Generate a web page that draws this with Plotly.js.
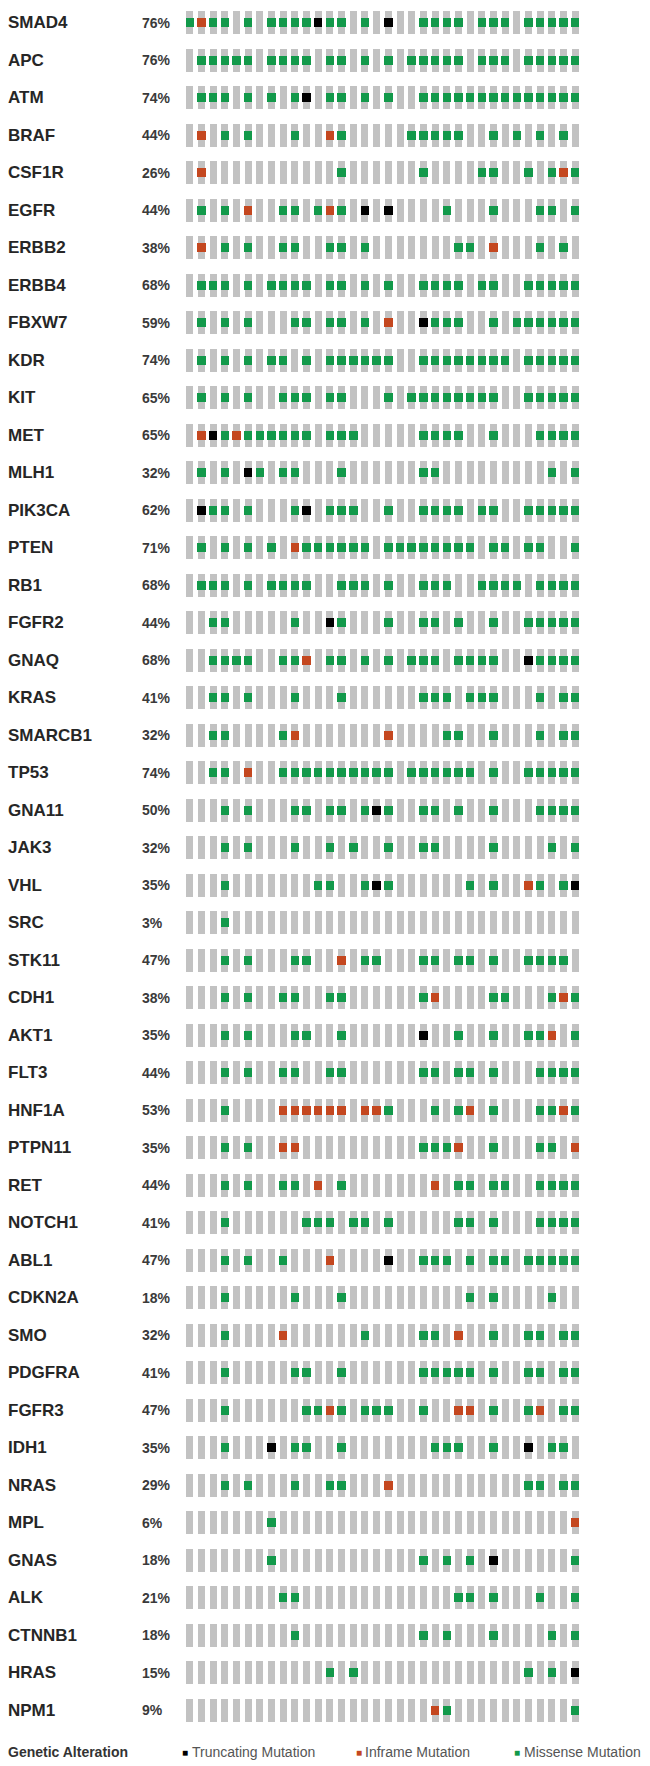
<!DOCTYPE html>
<html>
<head>
<meta charset="utf-8">
<script src="https://cdn.plot.ly/plotly-3.0.1.min.js"></script>
<style>html,body{margin:0;padding:0;background:#fff;}#chart{width:650px;height:1766px;}</style>
</head>
<body>
<div id="chart"></div>
<script>
// Gene names (rows, top to bottom)
const genes = ["SMAD4","APC","ATM","BRAF","CSF1R","EGFR","ERBB2","ERBB4","FBXW7","KDR","KIT","MET","MLH1","PIK3CA","PTEN","RB1","FGFR2","GNAQ","KRAS","SMARCB1","TP53","GNA11","JAK3","VHL","SRC","STK11","CDH1","AKT1","FLT3","HNF1A","PTPN11","RET","NOTCH1","ABL1","CDKN2A","SMO","PDGFRA","FGFR3","IDH1","NRAS","MPL","GNAS","ALK","CTNNB1","HRAS","NPM1"];
// Alteration frequency labels
const pcts = ["76%","76%","74%","44%","26%","44%","38%","68%","59%","74%","65%","65%","32%","62%","71%","68%","44%","68%","41%","32%","74%","50%","32%","35%","3%","47%","38%","35%","44%","53%","35%","44%","41%","47%","18%","32%","41%","47%","35%","29%","6%","18%","21%","18%","15%","9%"];
// Per-sample alterations (34 samples): M = missense, I = inframe, T = truncating, . = none
const alterations = [
"MIMM.M.MMM"+"MTMM.M.T.."+"MMMM.MMM.M"+"MMMM",
".MMMMM.MMM"+"M.MM.M.M.M"+"MMMM.MMM.M"+"MMMM",
".MMM.M.M.M"+"T.MM.M.M.."+"MMMMMMMMMM"+"MMMM",
".I.M.M...M"+"..IM.....M"+"MMMM..M.M."+"M.M.",
".I........"+"...M......"+"M....MM..M"+".MIM",
".M.M.I..MM"+".MIM.T.T.."+"..M...M..."+"MM.M",
".I.M.M..MM"+"..MM.M...."+"...MM.I..."+"M.M.",
".MMM.M.MMM"+"M.MM.M.M.."+"MMMM.MM..M"+"MMMM",
".M.M.M...M"+"M.MM.M.I.."+"TMMM..M.MM"+"MMMM",
".M.M.M.MM."+"M.MMMMMM.."+"MMMMMMMM.M"+"MMMM",
".M.M.M..MM"+"M.MM...M.M"+"MMMMMMM..M"+"MMMM",
".ITMIMMMMM"+"M.MMM....."+"MMMM..M..."+"MMMM",
".M.M.TM.MM"+"...M......"+"MM........"+".M.M",
".TMM.M...M"+"T.MMM..M.."+"MMMM.MM..M"+"MMMM",
".M.M.M.M.I"+"MMMMMM.MMM"+"MMMMM.MM.M"+"M..M",
".MMM.M.MMM"+"M..MMM.M.."+"MMM..MMMM."+"MMMM",
"..MM.....M"+"..TM...M.."+"MM.M..M..M"+"MMMM",
"..MMMM..MM"+"I.MM.M.M.M"+"MM.MMMM..T"+"MMMM",
"..MM.M...M"+"...M......"+"MMM.MMM..."+"M.MM",
"..MM....MI"+".......I.."+"..MM..M..."+"M.MM",
"..MM.I..MM"+"MMMMMMMM.M"+"MMMMM.M..M"+"MMMM",
"...M.M...M"+"M.MM.MTM.."+"MM.M..M..."+"MMMM",
"...M.M...M"+"..M.M..M.."+"MM....M..."+".M.M",
"...M......"+".MM..MTM.."+"....M.M..I"+"M.MT",
"...M......"+".........."+".........."+"....",
"...M.M...M"+"M..I.MM..."+"MM.MM.M..M"+"MMM.",
"...M.M..MM"+"..MM......"+"MI....MM.."+".MIM",
"...M.M...M"+"M..M......"+"T..M..M..M"+"MI.M",
"...M.M..MM"+"..MM......"+"MM.MM.M..."+"MMMM",
"...M....II"+"IIII.IIM.."+".M.MI.M..."+"MMIM",
"...M.M..II"+".........."+"MMMI..M..."+"MM.I",
"...M.M..MM"+".I.M......"+".I.MM.MM.."+"MMMM",
"...M......"+"MMM.MM.M.."+"...MM.M..."+"MMMM",
"...M.M..M."+"..I....T.."+"MMM.M.MM.M"+"MMMM",
"...M.....M"+"...M......"+"....M.M..."+".M..",
"...M....I."+".....M...."+"MM.I..M..M"+"M.MM",
"...M.....M"+"M..M......"+"MMMMM.M..M"+"M.MM",
"...M......"+"MMIM.MMM.."+"M..II.M..M"+"I.MM",
"...M...T.M"+"M..M......"+".MMM..M..T"+".MM.",
"...M.M...M"+"..MM...I.."+".........M"+"M.MM",
".......M.."+".........."+".........."+"...I",
".......M.."+".........."+"M.M.M.T..."+"...M",
"........MM"+".........."+"...MM.M..."+"M..M",
".........M"+".........."+"M.M...M..."+".M.M",
".........."+"..M.M....."+".........M"+".M.T",
".........."+".........."+".IM......."+"...M"
];
const nSamples = 34;
const typeCodes = ["T","I","M"];
const typeNames = ["Truncating Mutation","Inframe Mutation","Missense Mutation"];
const typeColors = ["#000000","#c4471f","#12994a"];

const FONT = "'Liberation Sans', Arial, Helvetica, sans-serif";
const W = 650, H = 1766;
const M = {l:184, r:69, t:4, b:37};
const plotW = W - M.l - M.r, plotH = H - M.t - M.b;

// background gray bars
const bgX = [], bgBase = [], bgY = [];
for (let r = 0; r < genes.length; r++) {
  for (let c = 0; c < nSamples; c++) {
    bgX.push(c); bgBase.push(r - 0.31); bgY.push(0.62);
  }
}
const traces = [{
  type:'bar', x:bgX, y:bgY, base:bgBase, width:0.6,
  marker:{color:'#c2c2c2', line:{width:0}}, hoverinfo:'skip', showlegend:false
}];
typeCodes.forEach((code, ti) => {
  const xs = [], bs = [], ys = [];
  alterations.forEach((row, r) => {
    for (let c = 0; c < row.length; c++) {
      if (row[c] === code) { xs.push(c); bs.push(r - 0.125); ys.push(0.25); }
    }
  });
  traces.push({
    type:'bar', x:xs, y:ys, base:bs, width:0.72, name:typeNames[ti],
    marker:{color:typeColors[ti], line:{width:0}}, showlegend:false,
    hovertemplate: typeNames[ti] + '<extra></extra>'
  });
});

const px2paperX = px => (px - M.l) / plotW;
const px2paperY = py => (H - M.b - py) / plotH;

const annotations = [];
genes.forEach((g, i) => {
  annotations.push({xref:'paper', yref:'y', x:px2paperX(6), y:i, xanchor:'left', yanchor:'middle',
    text:'<b>'+g+'</b>', showarrow:false, font:{family:FONT, size:17, color:'#262626'}});
  annotations.push({xref:'paper', yref:'y', x:px2paperX(140), y:i, xanchor:'left', yanchor:'middle',
    text:'<b>'+pcts[i]+'</b>', showarrow:false, font:{family:FONT, size:14, color:'#3a3a3a'}});
});

const legY = px2paperY(1752);
annotations.push({xref:'paper', yref:'paper', x:px2paperX(6), y:legY, xanchor:'left', yanchor:'middle',
  text:'<b>Genetic Alteration</b>', showarrow:false, font:{family:FONT, size:14, color:'#333'}});
const legSq = [180, 354, 512];
const legTx = [190, 363, 522];
typeNames.forEach((n, i) => {
  annotations.push({xref:'paper', yref:'paper', x:px2paperX(legSq[i]), y:legY, xanchor:'left', yanchor:'middle',
    text:'■', showarrow:false, font:{family:FONT, size:10, color:typeColors[i]}});
  annotations.push({xref:'paper', yref:'paper', x:px2paperX(legTx[i]), y:legY, xanchor:'left', yanchor:'middle',
    text:n, showarrow:false, font:{family:FONT, size:14, color:'#555'}});
});

const layout = {
  width:W, height:H, margin:M, barmode:'overlay', bargap:0,
  paper_bgcolor:'#fff', plot_bgcolor:'#fff', showlegend:false,
  xaxis:{range:[-0.5, nSamples - 0.5], visible:false, fixedrange:true},
  yaxis:{range:[genes.length - 0.5, -0.5], visible:false, fixedrange:true},
  annotations:annotations
};
Plotly.newPlot('chart', traces, layout, {displayModeBar:false, staticPlot:true});
</script>
</body>
</html>
